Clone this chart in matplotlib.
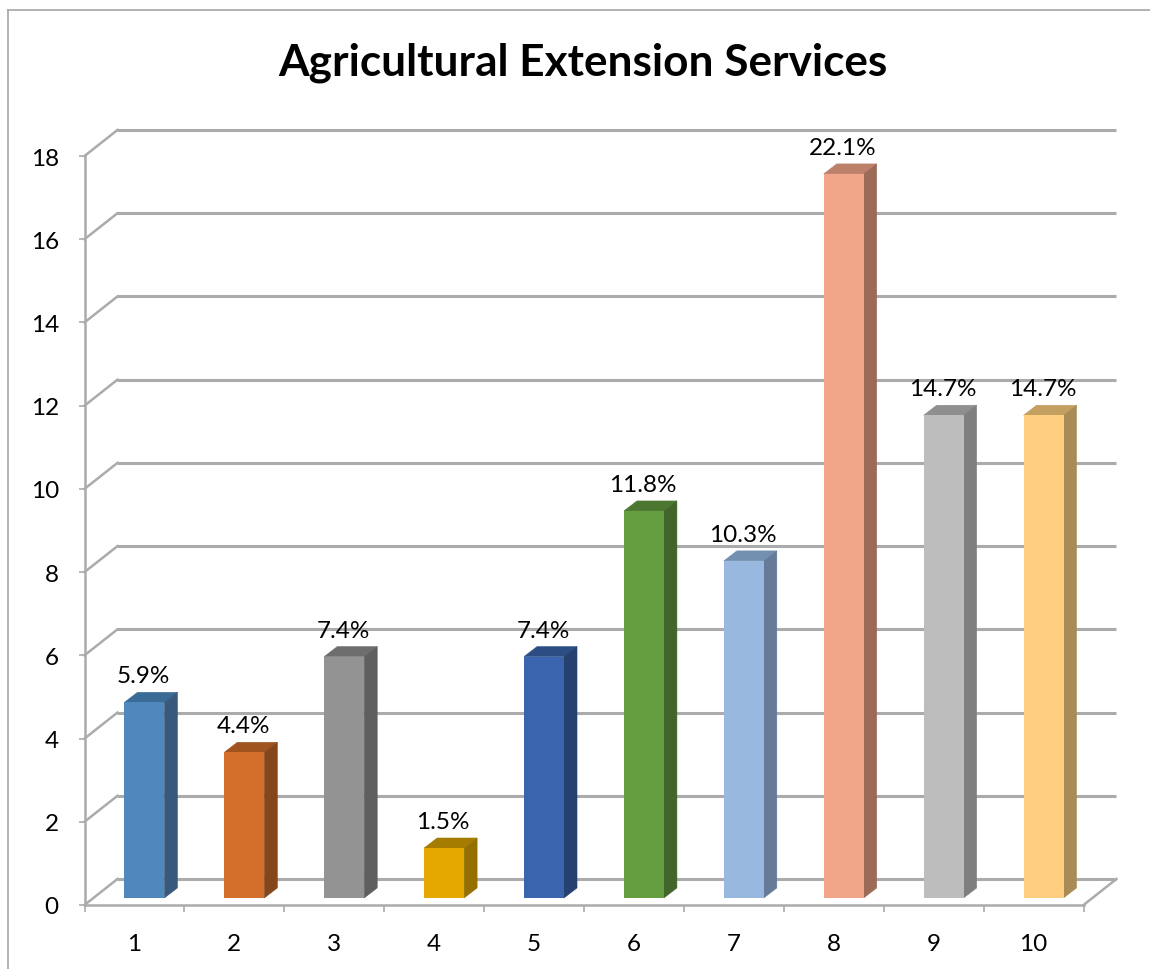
import numpy as np
import matplotlib
matplotlib.use('Agg')
import matplotlib.pyplot as plt
from matplotlib.lines import Line2D
from matplotlib.patches import Polygon

plt.rcParams['font.family'] = ['Lato', 'DejaVu Sans']

# Data
categories = ['1', '2', '3', '4', '5', '6', '7', '8', '9', '10']
values = [4.7, 3.5, 5.8, 1.2, 5.8, 9.3, 8.1, 17.4, 11.6, 11.6]
labels = ['5.9%', '4.4%', '7.4%', '1.5%', '7.4%', '11.8%', '10.3%', '22.1%', '14.7%', '14.7%']
front_colors = ['#4F88BD', '#D26E2A', '#939393', '#E5A800', '#3A64AE',
                '#659E3F', '#99B8E0', '#F1A68A', '#BDBDBD', '#FFCF7F']
top_colors = ['#3A6A96', '#A0531F', '#6E6E6E', '#A67C00', '#2C4C84',
              '#4C7730', '#7490B0', '#BD8069', '#8F8F8F', '#C4A060']
side_colors = ['#36597C', '#85461C', '#5F5F5F', '#947000', '#26406F',
               '#41652A', '#667B99', '#9C6B58', '#7F7F7F', '#A88B55']
y_ticks = [0, 2, 4, 6, 8, 10, 12, 14, 16, 18]

W, H = 1150, 970
grid_color = '#ABABAB'

fig = plt.figure(figsize=(W / 100, H / 100), dpi=100)
# axes box = front plane of the fake 3D chart, in pixels of the reference
ax = fig.add_axes([84.5 / W, 1 - 906 / H, 999 / W, 749 / H])
ax.set_xlim(0, 10)
ax.set_ylim(0, 18)
ax.patch.set_alpha(0)

# depth of the walls and of the bars, in data units
wall_dx, wall_dy = 0.33, 0.625
bar_dx, bar_dy = 0.13, 0.24
bar_shift, bar_base = 0.10, 0.17
bar_width = 0.40

# back wall gridlines and the slanted lines on the side wall
for t in y_ticks:
    ax.plot([wall_dx, 10 + wall_dx], [t + wall_dy, t + wall_dy], color=grid_color,
            lw=2.2, clip_on=False, zorder=1, solid_capstyle='butt')
    ax.plot([0, wall_dx], [t, t + wall_dy], color=grid_color, lw=1.8, clip_on=False, zorder=1)
ax.plot([10, 10 + wall_dx], [0, wall_dy], color=grid_color, lw=1.8, clip_on=False, zorder=1)

# bars: front face through ax.bar, then top and side faces
x = np.arange(len(values)) + 0.5 + bar_shift
ax.bar(x, values, width=bar_width, bottom=bar_base, color=front_colors, zorder=4, clip_on=False)
for xi, v, c_top, c_side in zip(x, values, top_colors, side_colors):
    x0, x1 = xi - bar_width / 2, xi + bar_width / 2
    y0, y1 = bar_base, bar_base + v
    ax.add_patch(Polygon([(x0, y1), (x1, y1), (x1 + bar_dx, y1 + bar_dy), (x0 + bar_dx, y1 + bar_dy)],
                         closed=True, fc=c_top, ec=c_top, lw=0.4, zorder=3, clip_on=False))
    ax.add_patch(Polygon([(x1, y0), (x1 + bar_dx, y0 + bar_dy), (x1 + bar_dx, y1 + bar_dy), (x1, y1)],
                         closed=True, fc=c_side, ec=c_side, lw=0.4, zorder=3, clip_on=False))

# data labels
for xi, v, lab in zip(x, values, labels):
    ax.annotate(lab, (xi - 0.01, bar_base + v), xytext=(0, 19), textcoords='offset points',
                ha='center', va='center', fontsize=17.5, color='black', zorder=5)

# axes
for s in ['top', 'right']:
    ax.spines[s].set_visible(False)
for s in ['left', 'bottom']:
    ax.spines[s].set_color(grid_color)
    ax.spines[s].set_linewidth(1.8)
ax.set_yticks(y_ticks)
ax.tick_params(axis='y', length=4.5, width=1.2, color=grid_color, pad=14, labelsize=17.5)
ax.set_xticks(np.arange(0, 11))
ax.set_xticklabels([])
ax.tick_params(axis='x', which='major', length=5, width=1.2, color=grid_color)
ax.set_xticks(np.arange(len(categories)) + 0.5, minor=True)
ax.set_xticklabels(categories, minor=True)
ax.tick_params(axis='x', which='minor', length=0, pad=20, labelsize=17.5)

# title
fig.text(583 / W, 1 - 63 / H, 'Agricultural Extension Services', ha='center', va='center',
         fontsize=31.8, fontweight='bold', color='black')

# outer chart frame, cut off by the crop
fig.add_artist(Line2D([8 / W, 8 / W], [0, 1 - 11 / H], color='#A6A6A6', lw=1.2))
fig.add_artist(Line2D([8 / W, 1], [1 - 11 / H, 1 - 11 / H], color='#A6A6A6', lw=1.2))

fig.savefig('out.png', dpi=100)
